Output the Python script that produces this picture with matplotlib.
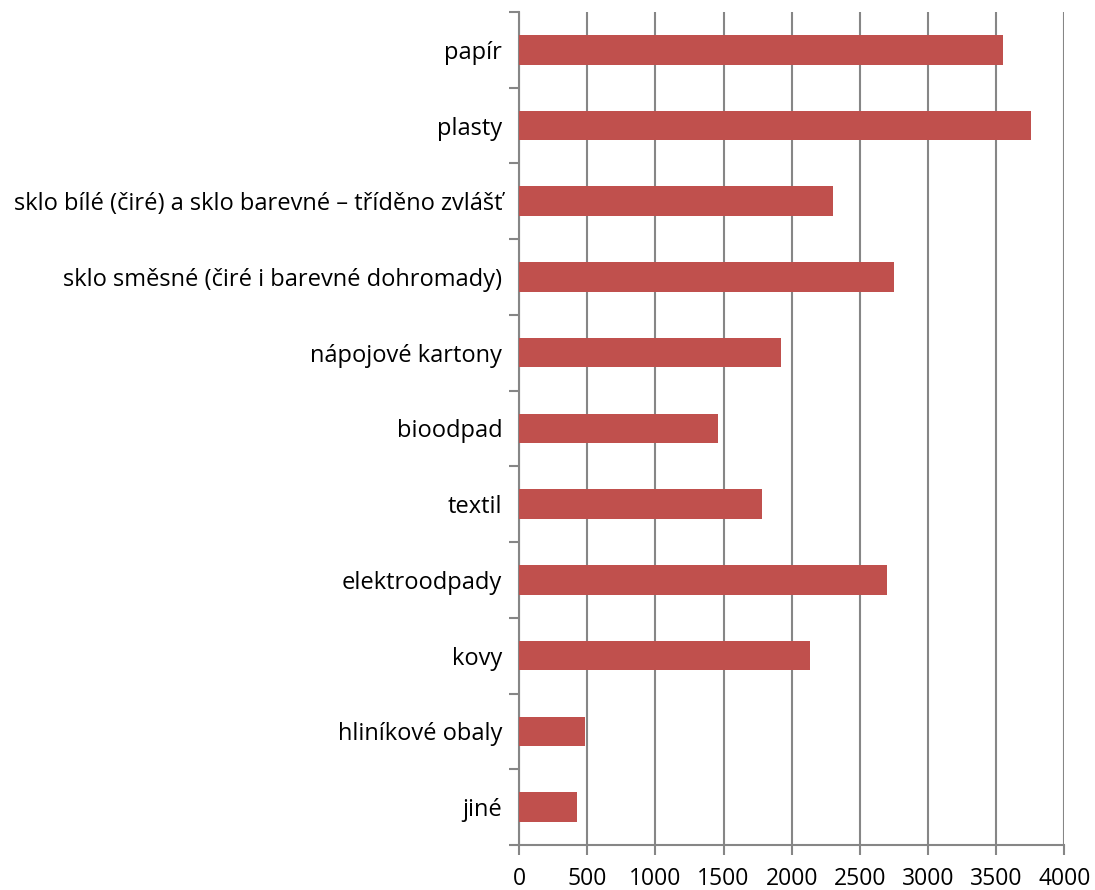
import numpy as np
import matplotlib.pyplot as plt

kategorie = ['papír', 'plasty', 'sklo bílé (čiré) a sklo barevné – tříděno zvlášť',
             'sklo směsné (čiré i barevné dohromady)', 'nápojové kartony', 'bioodpad',
             'textil', 'elektroodpady', 'kovy', 'hliníkové obaly', 'jiné']
hodnoty = [3553, 3754, 2304, 2754, 1925, 1461, 1782, 2696, 2134, 486, 427]
xticky = [0, 500, 1000, 1500, 2000, 2500, 3000, 3500, 4000]

plt.rcParams['font.family'] = ['Open Sans', 'DejaVu Sans']

fig = plt.figure(figsize=(10.95, 8.9), dpi=100)
ax = fig.add_axes([0.474, 0.0506, 0.498, 0.936])

n = len(kategorie)
y = np.arange(n)[::-1]
ax.barh(y, hodnoty, height=0.39, color='#C0504D', zorder=3)

ax.set_xlim(0, 4000)
ax.set_ylim(-0.5, n - 0.5)
ax.set_xticks(xticky)
ax.set_xticklabels([str(t) for t in xticky], fontsize=16.5)
ax.set_yticks(y)
ax.set_yticklabels(kategorie, fontsize=17)
ax.set_yticks(np.arange(n + 1) - 0.5, minor=True)

ax.grid(axis='x', color='#868686', linewidth=1.5, zorder=0)
for s in ['top', 'right']:
    ax.spines[s].set_visible(False)
for s in ['left', 'bottom']:
    ax.spines[s].set_color('#868686')
    ax.spines[s].set_linewidth(1.5)

ax.tick_params(axis='y', which='major', length=0, pad=12)
ax.tick_params(axis='y', which='minor', length=7, width=1.5, color='#868686')
ax.tick_params(axis='x', length=7, width=1.5, color='#868686', pad=9)

plt.savefig('out.png', dpi=100)
plt.close()
